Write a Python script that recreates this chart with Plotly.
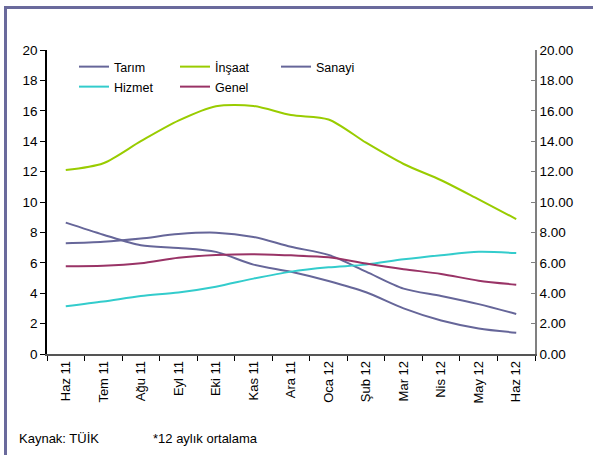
import plotly.graph_objects as go

months = ["Haz 11", "Tem 11", "Ağu 11", "Eyl 11", "Eki 11", "Kas 11", "Ara 11",
          "Oca 12", "Şub 12", "Mar 12", "Nis 12", "May 12", "Haz 12"]
tarim = [8.64, 7.85, 7.15, 6.98, 6.72, 5.88, 5.41, 4.80, 4.06, 3.00, 2.20, 1.68, 1.40]
insaat = [12.10, 12.55, 14.00, 15.35, 16.30, 16.32, 15.72, 15.43, 13.90, 12.50, 11.43, 10.17, 8.88]
sanayi = [7.28, 7.38, 7.60, 7.89, 7.98, 7.70, 7.05, 6.52, 5.42, 4.30, 3.82, 3.28, 2.63]
hizmet = [3.14, 3.45, 3.81, 4.05, 4.43, 4.96, 5.42, 5.70, 5.88, 6.23, 6.50, 6.72, 6.64]
genel = [5.77, 5.80, 5.97, 6.33, 6.51, 6.57, 6.49, 6.36, 5.95, 5.58, 5.27, 4.82, 4.56]
left_ticks = list(range(0, 21, 2))

FONT = "Liberation Sans, Arial, sans-serif"
W, H = 593, 455
L, R, T, B = 47, 58, 50, 101
pw, ph = W - L - R, H - T - B

def px2x(px):
    return (px - L) / pw

def py2y(py):
    return (H - B - py) / ph

series = [
    ("Tarım", tarim, "#666699", "y", "legend"),
    ("İnşaat", insaat, "#99CC00", "y2", "legend"),
    ("Sanayi", sanayi, "#666699", "y", "legend"),
    ("Hizmet", hizmet, "#33CCCC", "y", "legend2"),
    ("Genel", genel, "#993366", "y", "legend2"),
]

fig = go.Figure()
for name, vals, col, ax, lg in series:
    fig.add_trace(go.Scatter(
        x=months, y=vals, name=name, mode="lines", yaxis=ax, legend=lg,
        line=dict(color=col, width=2, shape="spline", smoothing=0.8),
    ))

legend_common = dict(
    orientation="h", xanchor="left", yanchor="top",
    font=dict(family=FONT, size=12.5, color="black"),
    entrywidth=56, entrywidthmode="pixels",
    bgcolor="rgba(0,0,0,0)", tracegroupgap=0,
)

fig.update_layout(
    width=W, height=H,
    margin=dict(l=L, r=R, t=T, b=B),
    paper_bgcolor="white", plot_bgcolor="white",
    font=dict(family=FONT, size=13, color="black"),
    showlegend=True,
    legend=dict(x=px2x(74), y=py2y(52), **legend_common),
    legend2=dict(x=px2x(74), y=py2y(72), **legend_common),
    xaxis=dict(
        type="category", range=[-0.5, 12.5], tickson="boundaries",
        ticks="outside", ticklen=5, tickcolor="black", tickwidth=1,
        showline=True, linecolor="#555555", linewidth=1.5,
        tickangle=-90, showgrid=False, zeroline=False,
        tickfont=dict(family=FONT, size=13),
    ),
    yaxis=dict(
        range=[0, 20], tickvals=left_ticks, ticktext=[str(v) for v in left_ticks],
        ticks="outside", ticklen=5, tickcolor="black",
        showline=True, linecolor="black", linewidth=1.5,
        showgrid=False, zeroline=False, tickfont=dict(family=FONT, size=13.5),
    ),
    yaxis2=dict(
        range=[0, 20], tickvals=left_ticks, ticktext=[f"{v:.2f}" for v in left_ticks],
        overlaying="y", side="right", ticks="inside", ticklen=4, tickcolor="#808080",
        showline=True, linecolor="#808080", linewidth=1.5,
        showgrid=False, zeroline=False, tickfont=dict(family=FONT, size=13.5),
    ),
    shapes=[dict(
        type="rect", xref="paper", yref="paper",
        x0=px2x(5.5), x1=px2x(700), y0=py2y(700), y1=py2y(7.5),
        line=dict(color="#6a6a9c", width=3), fillcolor="rgba(0,0,0,0)", layer="below",
    )],
    annotations=[
        dict(text="Kaynak: TÜİK", xref="paper", yref="paper", x=px2x(17), y=py2y(438),
             xanchor="left", yanchor="middle", showarrow=False,
             font=dict(family=FONT, size=13, color="black")),
        dict(text="*12 aylık ortalama", xref="paper", yref="paper", x=px2x(151), y=py2y(438),
             xanchor="left", yanchor="middle", showarrow=False,
             font=dict(family=FONT, size=13, color="black")),
    ],
)

fig.write_html("out.html", config={"displayModeBar": False},
               post_script="document.body.style.margin='0';")
